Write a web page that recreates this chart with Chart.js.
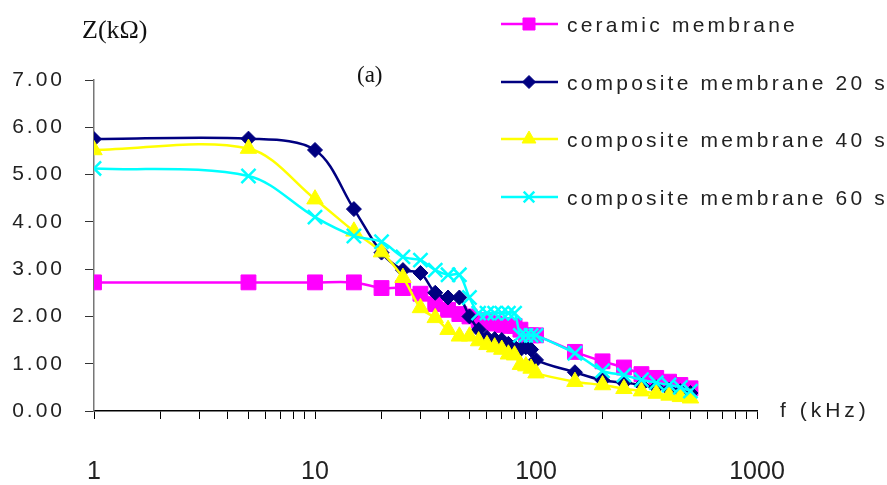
<!DOCTYPE html>
<html>
<head>
<meta charset="utf-8">
<script src="https://cdn.jsdelivr.net/npm/chart.js@4"></script>
<style>
  body { margin: 0; background: #fff; }
  canvas { display: block; }
</style>
</head>
<body>
<canvas id="grafico" width="887" height="485"></canvas>
<script>
// frequencias (kHz)
const freq = [1, 5, 10, 15, 20, 25, 30, 35, 40, 45, 50, 55, 60, 65, 70, 75, 80, 85, 90, 95, 100,
              150, 200, 250, 300, 350, 400, 450, 500];

// Z (kOhm) por serie
const ceramica = [2.72, 2.72, 2.72, 2.72, 2.60, 2.60, 2.48, 2.26, 2.14, 2.05, 2.00, 1.92, 1.88, 1.85, 1.82, 1.80, 1.80, 1.72, 1.60, 1.60, 1.60,
                  1.25, 1.05, 0.92, 0.78, 0.70, 0.62, 0.55, 0.48];
const comp20 = [5.75, 5.76, 5.52, 4.27, 3.35, 2.98, 2.92, 2.50, 2.40, 2.40, 2.00, 1.72, 1.55, 1.52, 1.50, 1.42, 1.35, 1.30, 1.35, 1.30, 1.08,
                0.82, 0.65, 0.60, 0.55, 0.50, 0.45, 0.42, 0.38];
const comp40 = [5.52, 5.55, 4.48, 3.80, 3.36, 2.82, 2.18, 1.97, 1.72, 1.58, 1.58, 1.48, 1.40, 1.35, 1.30, 1.20, 1.18, 0.98, 0.95, 0.90, 0.80,
                0.62, 0.55, 0.47, 0.42, 0.37, 0.33, 0.30, 0.27];
const comp60 = [5.13, 4.97, 4.10, 3.70, 3.58, 3.26, 3.19, 2.98, 2.88, 2.88, 2.40, 2.07, 2.07, 2.07, 2.07, 2.07, 2.07, 1.60, 1.60, 1.60, 1.60,
                1.22, 0.85, 0.76, 0.66, 0.60, 0.55, 0.50, 0.42];

const nomes = ["ceramic membrane", "composite membrane 20 s", "composite membrane 40 s", "composite membrane 60 s"];
const cores = ["#ff00ff", "#000080", "#ffff00", "#00ffff"];
const estilos = ["rect", "rectRot", "triangle", "crossRot"];
const raios = [10.5, 7.5, 9.5, 10];
const raiosLegenda = [8.5, 6.5, 8, 7.5];
const yTicks = [0, 1, 2, 3, 4, 5, 6, 7];
const xLabels = [1, 10, 100, 1000];

function serie(valores, i) {
  return {
    label: nomes[i],
    data: freq.map((f, k) => ({ x: f, y: valores[k] })),
    borderColor: cores[i],
    backgroundColor: cores[i],
    borderWidth: 2.5,
    tension: 0.33,
    pointStyle: estilos[i],
    pointRadius: raios[i],
    pointBackgroundColor: cores[i],
    pointBorderColor: cores[i],
    pointBorderWidth: i === 3 ? 2.5 : 1,
    order: 3 - i
  };
}

const textos = {
  id: "textos",
  afterDraw(chart) {
    const ctx = chart.ctx;
    const sx = chart.scales.x, sy = chart.scales.y;
    ctx.save();
    ctx.fillStyle = "#222";

    // rotulos do eixo y
    ctx.font = "21px 'Liberation Sans', Arial, sans-serif";
    ctx.letterSpacing = "3px";
    ctx.textAlign = "right";
    ctx.textBaseline = "middle";
    yTicks.forEach(v => ctx.fillText(v.toFixed(2), 65, sy.getPixelForValue(v)));

    // f (kHz)
    ctx.textAlign = "left";
    ctx.letterSpacing = "4px";
    ctx.fillText("f (kHz)", 780, sy.getPixelForValue(0));

    // rotulos do eixo x
    ctx.letterSpacing = "0px";
    ctx.font = "25px 'Liberation Sans', Arial, sans-serif";
    ctx.textAlign = "center";
    xLabels.forEach(v => ctx.fillText(String(v), sx.getPixelForValue(v), 472));

    // Z(kΩ) e (a)
    ctx.textAlign = "left";
    ctx.fillStyle = "#111";
    ctx.font = "26px 'Liberation Serif', 'Times New Roman', serif";
    ctx.fillText("Z(kΩ)", 82, 31);
    ctx.font = "23px 'Liberation Serif', 'Times New Roman', serif";
    ctx.fillText("(a)", 357, 76);

    // legenda
    const ys = [24, 82, 139, 197];
    nomes.forEach((nome, i) => {
      const y = ys[i];
      ctx.strokeStyle = cores[i];
      ctx.fillStyle = cores[i];
      ctx.lineWidth = 2.5;
      ctx.beginPath();
      ctx.moveTo(501, y);
      ctx.lineTo(558, y);
      ctx.stroke();
      ctx.lineWidth = i === 3 ? 2.5 : 1;
      Chart.helpers.drawPoint(ctx, {
        pointStyle: estilos[i], radius: raiosLegenda[i], rotation: 0, borderWidth: i === 3 ? 2.5 : 1
      }, 529, y);
      ctx.fillStyle = "#222";
      ctx.font = "21px 'Liberation Sans', Arial, sans-serif";
      ctx.letterSpacing = "3.2px";
      ctx.textAlign = "left";
      ctx.textBaseline = "middle";
      ctx.fillText(nome, 567, y + 2);
    });
    ctx.restore();
  }
};

const todosTicks = [];
[1, 10, 100].forEach(d => { for (let m = 1; m <= 9; m++) todosTicks.push(m * d); });
todosTicks.push(1000);

new Chart(document.getElementById("grafico"), {
  type: "line",
  data: {
    datasets: [serie(ceramica, 0), serie(comp20, 1), serie(comp40, 2), serie(comp60, 3)]
  },
  options: {
    responsive: false,
    animation: false,
    devicePixelRatio: 1,
    layout: { padding: { left: 0, top: 80, right: 130, bottom: 0 } },
    plugins: { legend: { display: false }, tooltip: { enabled: false } },
    scales: {
      x: {
        type: "logarithmic",
        min: 1,
        max: 1000,
        afterBuildTicks: s => { s.ticks = todosTicks.map(v => ({ value: v })); },
        afterFit: s => { s.height = 74; },
        ticks: { display: false },
        grid: { drawOnChartArea: false, tickLength: 8, color: "#000", lineWidth: 1 },
        border: { color: "#000", width: 1.5 }
      },
      y: {
        min: 0,
        max: 7,
        afterBuildTicks: s => { s.ticks = yTicks.map(v => ({ value: v })); },
        afterFit: s => { s.width = 94; },
        ticks: { display: false },
        grid: { drawOnChartArea: false, tickLength: 9, color: "#333", lineWidth: 1 },
        border: { color: "#777", width: 1.5 }
      }
    }
  },
  plugins: [textos]
});
</script>
</body>
</html>
